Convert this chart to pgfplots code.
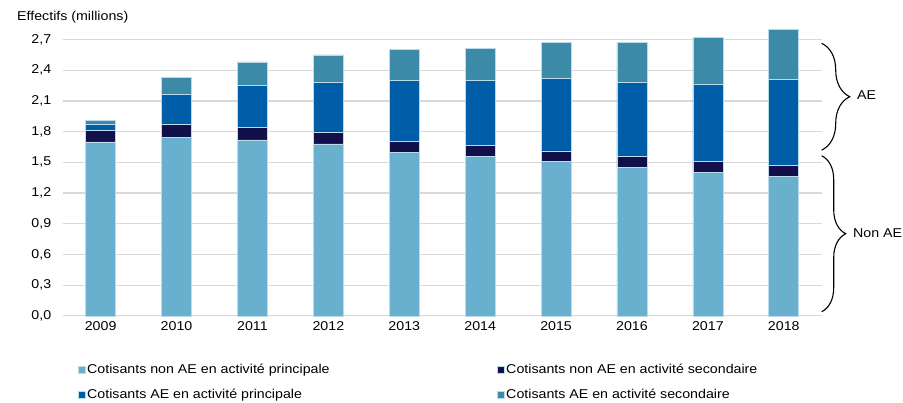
\documentclass[border=0pt]{standalone}
\usepackage{fontspec}
\setmainfont[FakeStretch=1.11]{Liberation Sans}
\usepackage{pgfplots}
\pgfplotsset{compat=1.18}
\usetikzlibrary{decorations.pathreplacing}
\definecolor{c1}{HTML}{69B0CF}
\definecolor{c2}{HTML}{12104A}
\definecolor{c3}{HTML}{005EA8}
\definecolor{c4}{HTML}{3A8AA8}
\definecolor{gridc}{HTML}{D9D9D9}
\newcommand{\ff}{\fontsize{12.8bp}{15bp}\selectfont}
\begin{document}
\begin{tikzpicture}[x=1bp,y=1bp,font=\ff]
\path[use as bounding box] (0,0) rectangle (903,402);
\begin{axis}[
  at={(62.7bp,86.2bp)}, anchor=south west,
  scale only axis, width=759bp, height=286.4bp,
  xmin=-0.5, xmax=9.5, ymin=0, ymax=2.8,
  ybar stacked, bar width=30bp,
  axis line style={draw=none},
  major tick length=0pt,
  xtick={0,1,2,3,4,5,6,7,8,9},
  xticklabels={2009,2010,2011,2012,2013,2014,2015,2016,2017,2018},
  ytick={0,0.3,0.6,0.9,1.2,1.5,1.8,2.1,2.4,2.7},
  /pgf/number format/fixed,
  /pgf/number format/fixed zerofill,
  /pgf/number format/precision=1,
  /pgf/number format/use comma,
  /pgf/number format/assume math mode=true,
  ymajorgrids, grid style={draw=gridc, line width=1.2bp},
  tick label style={font=\ff},
  yticklabel style={xshift=-8bp},
  xticklabel style={yshift=-2bp},
  clip=false,
  legend columns=2,
  legend cell align=left,
  legend style={at={(axis description cs:0.02,-0.1625)}, anchor=north west, draw=none, fill=none, inner sep=0pt,
    font=\ff, row sep=11bp,
    nodes={inner sep=1.5bp},
    /tikz/every even column/.append style={column sep=166bp}},
  legend image code/.code={\fill[#1] (0bp,-3.5bp) rectangle (7bp,3.5bp);},
  every axis plot/.append style={draw=c1!45!white, line width=0.6bp},
]
\addplot[fill=c1] coordinates {(0,1.70) (1,1.745) (2,1.72) (3,1.68) (4,1.60) (5,1.555) (6,1.513) (7,1.452) (8,1.40) (9,1.36)};
\addlegendentry{Cotisants non AE en activité principale}
\addplot[fill=c2] coordinates {(0,0.115) (1,0.123) (2,0.12) (3,0.11) (4,0.106) (5,0.108) (6,0.10) (7,0.103) (8,0.107) (9,0.111)};
\addlegendentry{Cotisants non AE en activité secondaire}
\addplot[fill=c3] coordinates {(0,0.06) (1,0.293) (2,0.41) (3,0.49) (4,0.592) (5,0.635) (6,0.705) (7,0.724) (8,0.753) (9,0.837)};
\addlegendentry{Cotisants AE en activité principale}
\addplot[fill=c4] coordinates {(0,0.035) (1,0.17) (2,0.232) (3,0.27) (4,0.303) (5,0.317) (6,0.358) (7,0.394) (8,0.459) (9,0.489)};
\addlegendentry{Cotisants AE en activité secondaire}
\draw[decorate, decoration={brace, amplitude=28bp}, line width=1.1bp] (axis cs:9.5,2.664) -- (axis cs:9.5,1.62);
\draw[decorate, decoration={brace, amplitude=24bp}, line width=1.1bp] (axis cs:9.5,1.565) -- (axis cs:9.5,0.04);
\end{axis}
\node[anchor=west, inner sep=0pt] at (17,385) {Effectifs (millions)};
\node[anchor=west, inner sep=0pt] at (857,307) {AE};
\node[anchor=west, inner sep=0pt] at (853,169) {Non AE};
\end{tikzpicture}
\end{document}
